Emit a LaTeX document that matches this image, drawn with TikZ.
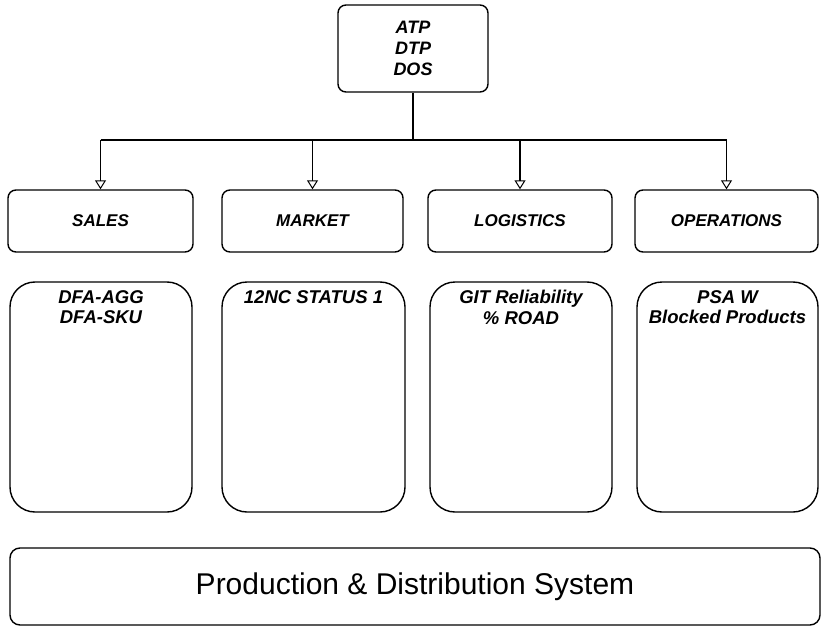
\documentclass[tikz,border=0pt]{standalone}
\usepackage{fontspec}
\setmainfont{Liberation Sans}
\usetikzlibrary{arrows.meta,calc}
\tikzset{
  line/.style={line width=1.4pt, black},
  catbox/.style={draw, line width=1.4pt, rounded corners=8pt, inner sep=0pt,
    minimum height=62pt, font=\fontsize{17}{20}\selectfont\bfseries\itshape},
  bigbox/.style={draw, line width=1.4pt, rounded corners=25pt, inner sep=0pt,
    minimum height=230pt},
  bigtext/.style={anchor=north, align=center, inner sep=0pt,
    font=\fontsize{18.5}{20.5}\selectfont\bfseries\itshape},
  arr/.style={line, -{Triangle[open, length=9pt, width=11pt, line width=1pt]}}
}
\begin{document}
\begin{tikzpicture}[x=1pt, y=-1pt]
\useasboundingbox (0,0) rectangle (821,631);
% top box
\node[draw, line width=1.4pt, rounded corners=8pt, minimum width=150pt, minimum height=87pt,
  inner sep=0pt, align=center, font=\fontsize{18}{21}\selectfont\bfseries\itshape]
  (top) at (413,48.5) {ATP\\DTP\\DOS};
% category boxes
\node[catbox, minimum width=185pt] (sales) at (100.5,221) {SALES};
\node[catbox, minimum width=181pt] (market) at (312.5,221) {MARKET};
\node[catbox, minimum width=184pt] (logistics) at (520,221) {LOGISTICS};
\node[catbox, minimum width=183pt] (operations) at (726.5,221) {OPERATIONS};
% connectors
\coordinate (hub) at (413,140);
\draw[line] (top.south) -- (hub);
\draw[line] (sales.north |- hub) -- (operations.north |- hub);
\foreach \n in {sales,market,logistics,operations}
  \draw[arr] (\n.north |- hub) -- (\n.north);
% big boxes
\node[bigbox, minimum width=182pt] (b1) at (101,397) {};
\node[bigbox, minimum width=183pt] (b2) at (313.5,397) {};
\node[bigbox, minimum width=182pt] (b3) at (521,397) {};
\node[bigbox, minimum width=181pt] (b4) at (727.5,397) {};
\node[bigtext] (t1) at ($(b1.north)+(0,9)$) {DFA-AGG\\DFA-SKU};
\node[bigtext] (t2) at ($(b2.north)+(0,9)$) {12NC STATUS 1};
\node[bigtext] (t3) at ($(b3.north)+(0,9)$) {GIT Reliability\\\% ROAD};
\node[bigtext] (t4) at ($(b4.north)+(0,9)$) {PSA W\\Blocked Products};
% bottom box
\node[draw, line width=1.4pt, rounded corners=10pt, minimum width=810pt, minimum height=77pt,
  inner sep=0pt, font=\fontsize{30}{36}\selectfont] (pds) at (415,586.5)
  {Production \& Distribution System};
\end{tikzpicture}
\end{document}
